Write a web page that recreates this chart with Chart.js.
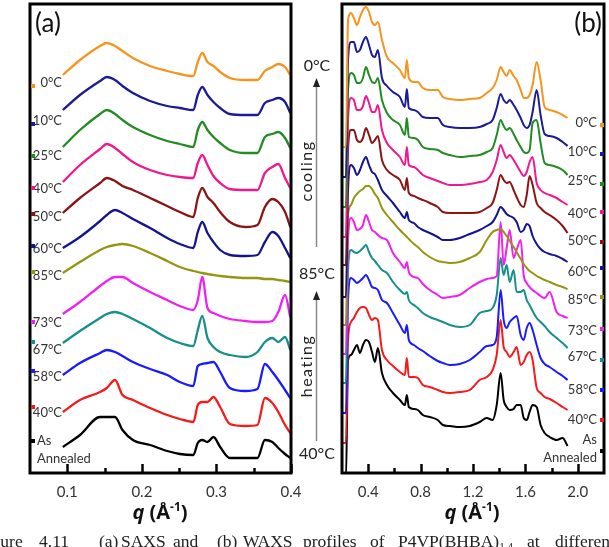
<!DOCTYPE html>
<html>
<head>
<meta charset="utf-8">
<title>SAXS / WAXS profiles</title>
<script src="https://cdn.jsdelivr.net/npm/chart.js@4.4.1/dist/chart.umd.min.js"></script>
<style>
  html, body { margin: 0; padding: 0; background: #fff; }
  #fig { position: relative; width: 609px; height: 547px; overflow: hidden; font-family: Lato, "Open Sans", sans-serif; color: #333; }
  #fig canvas { position: absolute; top: 0; }
  .t { position: absolute; white-space: nowrap; line-height: 1; }
  .temp { font-size: 13px; }
  .side { font-size: 16px; color: #222; }
  .panel { font-size: 26px; color: #111; }
  .mark { position: absolute; width: 4px; height: 4px; }
  .axis-title { font-family: "Open Sans", sans-serif; font-weight: 700; font-size: 20px; color: #111; }
  .axis-title sup { font-size: 12px; vertical-align: 8px; line-height: 0; }
  .cap { font-family: "Liberation Serif", serif; font-size: 17.5px; color: #222; }
  .cap sub { font-size: 11px; vertical-align: -3px; line-height: 0; }
</style>
</head>
<body>
<div id="fig">
  <canvas id="saxs" width="330" height="500" style="left:0;width:330px;height:500px"></canvas>
  <canvas id="waxs" width="309" height="500" style="left:300px;width:309px;height:500px"></canvas>
  <svg width="609" height="547" style="position:absolute;left:0;top:0">
    <line x1="316.5" y1="247" x2="316.5" y2="84" stroke="#888" stroke-width="1.5"/>
    <polygon points="316.5,78 313,87 320,87" fill="#222"/>
    <line x1="316.5" y1="441" x2="316.5" y2="297" stroke="#888" stroke-width="1.5"/>
    <polygon points="316.5,291 313,300 320,300" fill="#222"/>
  </svg>
</div>
<script>
// ---- data (intensity in arbitrary units, curves already stacked) ----
const tempLabels = ['0°C', '10°C', '25°C', '40°C', '50°C', '60°C', '85°C', '73°C', '67°C', '58°C', '40°C', 'As Annealed'];

// SAXS, q in 1/Å
const saxsQ = [0.094, 0.117, 0.144, 0.153, 0.164, 0.174, 0.188, 0.211, 0.234, 0.251, 0.269, 0.275,
               0.281, 0.288, 0.296, 0.305, 0.318, 0.339, 0.355, 0.365, 0.375, 0.383, 0.392, 0.399];
const saxs0C   = [398,413,427,430,427,422,415,407,402,399,397,411,420,411,407,401,395,393,393,402,406,409,406,398];
const saxs10C  = [363,378,392,396,393,387,380,372,367,365,363,378,386,378,371,365,359,358,358,370,373,375,371,360];
const saxs25C  = [326,343,359,363,359,353,346,338,332,329,326,343,351,343,336,330,323,320,320,336,339,341,335,325];
const saxs40Cc = [291,308,324,329,325,319,311,303,298,296,295,310,318,308,297,290,284,283,283,300,306,309,295,285];
const saxs50C  = [260,275,290,295,292,287,283,275,267,261,256,275,285,276,270,261,251,246,248,266,274,271,261,246];
const saxs60C  = [225,236,252,258,263,260,254,245,235,229,225,241,251,240,231,223,218,217,218,231,241,237,225,215];
const saxs85C  = [200,211,223,226,228,229,227,220,212,206,202,201,200,199,198,197,196,195,195,194,194,193,192,191];
const saxs73C  = [159,171,187,192,196,196,190,181,173,167,163,173,196,165,160,157,154,152,151,151,152,161,178,156];
const saxs67C  = [130,142,155,159,161,159,154,145,135,130,127,143,157,135,126,121,118,116,121,131,135,131,136,123];
const saxs58C  = [98,110,120,123,121,117,111,104,98,91,87,107,109,110,111,101,85,82,84,109,101,93,83,75];
const saxs40Ch = [61,73,81,85,93,78,73,65,58,54,51,68,71,71,76,66,49,47,48,75,70,61,48,40];
const saxsAnn  = [26,38,56,56,56,43,33,28,22,19,18,30,33,31,36,26,15,15,15,33,31,25,19,15];
const saxsTicks = [0.1, 0.2, 0.3, 0.4];

// WAXS, q in 1/Å
const waxsQ = [0.200, 0.230, 0.246, 0.269, 0.291, 0.314, 0.337, 0.360, 0.383, 0.406, 0.429, 0.451, 0.474,
               0.505, 0.543, 0.589, 0.642, 0.680, 0.695, 0.710, 0.749, 0.779, 0.817, 0.870, 0.931, 0.970,
               1.023, 1.099, 1.175, 1.251, 1.305, 1.350, 1.381, 1.411, 1.434, 1.457, 1.480, 1.510, 1.533,
               1.564, 1.587, 1.610, 1.632, 1.655, 1.686, 1.716, 1.747, 1.785, 1.838, 1.884, 1.922];
const waxs0C   = [326,326,453,460,455,448,456,463,466,461,451,448,451,433,416,410,403,395,413,395,391,391,385,383,383,376,374,373,374,375,380,385,393,406,401,397,403,397,393,383,375,375,378,388,411,393,366,363,361,358,355];
const waxs10C  = [296,296,413,431,431,421,423,431,436,428,418,416,423,395,387,381,376,366,384,365,363,361,356,355,355,348,346,345,345,346,349,353,365,379,373,370,373,368,363,355,348,345,348,361,383,358,339,337,335,331,327];
const waxs25C  = [266,266,383,400,398,390,390,395,406,398,391,390,395,373,360,353,348,338,355,336,335,333,326,324,323,320,318,316,317,318,321,325,338,353,347,343,345,339,333,326,321,320,323,350,353,330,310,308,306,303,298];
const waxs40Cc = [236,236,353,375,373,363,363,367,377,370,361,361,368,343,330,323,316,308,326,308,306,303,298,295,292,290,288,288,289,291,293,301,313,328,321,315,318,313,308,301,297,301,311,316,290,283,280,278,275,271,268];
const waxs50C  = [208,208,323,343,343,333,331,335,345,338,330,333,337,313,303,298,293,283,295,280,277,275,273,270,266,261,260,260,260,261,265,270,283,298,293,290,291,283,276,268,266,278,297,288,270,265,261,258,253,247,240];
const waxs60C  = [176,176,283,308,305,298,303,311,316,308,301,299,293,283,277,270,261,255,261,253,250,246,243,240,236,233,233,235,239,243,247,251,258,266,263,259,257,255,251,241,243,249,247,237,229,224,221,219,217,214,211];
const waxs85C  = [148,148,258,268,275,279,282,284,287,287,284,279,275,265,258,251,243,238,236,234,229,226,221,216,212,211,210,211,215,221,233,241,243,244,241,237,232,226,221,214,209,205,202,200,197,195,193,191,188,186,184];
const waxs73C  = [119,119,233,255,251,243,244,248,258,251,243,241,238,235,233,220,211,205,211,201,196,195,189,183,178,175,176,178,185,191,194,195,197,251,208,225,243,215,223,233,198,190,186,183,180,177,175,181,161,157,155];
const waxs67C  = [90,90,203,223,221,220,222,225,228,221,215,212,208,203,200,191,183,179,181,173,168,165,160,156,153,151,148,146,148,160,162,165,178,215,198,208,191,203,181,181,183,173,168,162,155,151,147,141,135,130,125];
const waxs58C  = [60,60,173,195,193,190,192,195,198,193,186,185,183,173,170,160,148,140,148,133,128,125,122,117,112,110,108,109,113,121,127,128,136,183,153,145,151,155,157,138,133,145,150,143,128,115,109,106,101,97,93];
const waxs40Ch = [30,30,133,151,155,161,165,166,165,158,153,155,153,123,113,107,101,98,115,96,96,95,88,86,83,81,80,81,83,93,96,103,118,153,126,121,116,121,126,108,111,118,121,113,85,80,76,74,70,66,63];
const waxsAnn  = [-7,-7,113,118,123,128,120,128,133,131,121,111,125,100,88,80,73,68,78,66,64,63,58,56,53,48,47,46,47,51,55,53,68,100,73,66,63,64,68,68,55,53,61,68,66,48,40,36,33,35,27];
const waxsTicks = [0.4, 0.8, 1.2, 1.6, 2.0];

const saxsSeries = [saxs0C, saxs10C, saxs25C, saxs40Cc, saxs50C, saxs60C, saxs85C, saxs73C, saxs67C, saxs58C, saxs40Ch, saxsAnn];
const waxsSeries = [waxs0C, waxs10C, waxs25C, waxs40Cc, waxs50C, waxs60C, waxs85C, waxs73C, waxs67C, waxs58C, waxs40Ch, waxsAnn];

// ---- styling ----
const curveColors = ['#f7941d', '#1b1b94', '#228b22', '#f0188c', '#8c1414', '#14148f',
                     '#959512', '#f020f0', '#178f8a', '#1a1aff', '#f51b1b', '#000000'];
const saxsLabelY = [82, 120, 155, 188, 216, 248, 275, 322, 349, 376, 412];
const saxsMarkY  = [86, 124, 156, 188, 214, 246, 272, 322, 342, 371, 407, 441];
const waxsLabelY = [122, 151, 180, 213, 240, 271, 299, 330, 356, 389, 419];
const waxsMarkY  = [125, 154, 184, 212, 242, 268, 297, 329, 360, 390, 420, 451];

// frame with inward tick marks
const framePlugin = {
  id: 'frame',
  afterDatasetsDraw(chart, args, opts) {
    const { ctx, chartArea: a } = chart;
    const x = chart.scales.x;
    ctx.save();
    ctx.strokeStyle = '#000';
    ctx.lineWidth = 2.5;
    const tick = (v, len) => {
      const px = Math.round(x.getPixelForValue(v)) + 0.5;
      ctx.beginPath();
      ctx.moveTo(px, a.bottom);
      ctx.lineTo(px, a.bottom - len);
      ctx.stroke();
    };
    opts.major.forEach(v => tick(v, 9));
    opts.minor.forEach(v => tick(v, 5));
    ctx.lineWidth = 3;
    ctx.strokeRect(a.left, a.top, a.right - a.left, a.bottom - a.top);
    ctx.restore();
  }
};

function makeChart(id, q, series, cfg) {
  return new Chart(document.getElementById(id), {
    type: 'line',
    data: {
      datasets: series.map((vals, i) => ({
        label: tempLabels[i],
        data: q.map((x, j) => ({ x: x, y: vals[j] })),
        borderColor: curveColors[i],
        borderWidth: cfg.lineWidth,
        pointRadius: 0,
        fill: false,
        cubicInterpolationMode: 'monotone'
      }))
    },
    options: {
      responsive: false,
      animation: false,
      layout: { padding: { left: cfg.left, right: cfg.right, top: 4, bottom: 0 } },
      plugins: {
        legend: { display: false },
        tooltip: { enabled: false },
        frame: { major: cfg.major, minor: cfg.minor }
      },
      scales: {
        x: {
          type: 'linear',
          min: cfg.min,
          max: cfg.max,
          grid: { display: false, drawTicks: false },
          border: { display: false },
          afterBuildTicks: s => { s.ticks = cfg.major.map(v => ({ value: v })); },
          afterFit: s => { s.height = 27; },
          ticks: {
            padding: 10,
            color: '#333',
            font: { family: 'Lato', size: 15 },
            maxRotation: 0,
            autoSkip: false,
            callback: v => v.toFixed(1)
          }
        },
        y: { display: false, min: 0, max: 469 }
      }
    },
    plugins: [framePlugin]
  });
}

makeChart('saxs', saxsQ, saxsSeries, {
  min: 0.05, max: 0.4, left: 30, right: 39, lineWidth: 2.3,
  major: saxsTicks, minor: [0.15, 0.25, 0.35]
});
makeChart('waxs', waxsQ, waxsSeries, {
  min: 0.2, max: 2.2, left: 42, right: 5, lineWidth: 2,
  major: waxsTicks, minor: [0.6, 1.0, 1.4, 1.8]
});

// ---- text ----
const fig = document.getElementById('fig');
function put(html, x, y, cls, align, extra) {
  const d = document.createElement('div');
  d.className = 't ' + cls;
  d.innerHTML = html;
  d.style.left = x + 'px';
  d.style.top = y + 'px';
  const dx = align === 'right' ? '-100%' : align === 'center' ? '-50%' : '0';
  d.style.transform = `translate(${dx}, -50%)` + (extra || '');
  fig.appendChild(d);
  return d;
}
function mark(x, y, color) {
  const m = document.createElement('div');
  m.className = 'mark';
  m.style.left = x + 'px';
  m.style.top = (y - 2) + 'px';
  m.style.background = color;
  fig.appendChild(m);
}

saxsLabelY.forEach((y, i) => put(tempLabels[i], 62, y, 'temp', 'right'));
put('As', 37, 440, 'temp', 'left');
put('Annealed', 37, 458, 'temp', 'left');
saxsMarkY.forEach((y, i) => mark(31, y, curveColors[i]));

waxsLabelY.forEach((y, i) => put(tempLabels[i], 597, y, 'temp', 'right'));
put('As', 597, 439, 'temp', 'right');
put('Annealed', 597, 457, 'temp', 'right');
waxsMarkY.forEach((y, i) => mark(600, y, curveColors[i]));

put('(a)', 35, 22, 'panel', 'left');
put('(b)', 602, 22, 'panel', 'right');

put('0°C', 317, 65, 'side', 'center');
put('85°C', 317, 273, 'side', 'center');
put('40°C', 317, 453, 'side', 'center');
put('cooling', 306, 171, 'side', 'center', ' rotate(-90deg)').style.letterSpacing = '1.5px';
put('heating', 306, 366, 'side', 'center', ' rotate(-90deg)').style.letterSpacing = '1.5px';

put('<i>q</i> (Å<sup>-1</sup>)', 160, 512, 'axis-title', 'center');
put('<i>q</i> (Å<sup>-1</sup>)', 472, 512, 'axis-title', 'center');

// y label, almost entirely cut off by the left edge
const yl = document.createElement('div');
yl.className = 't side';
yl.style.cssText = 'width:140px;text-align:right;left:-24px;top:326px;transform-origin:0 0;transform:rotate(-90deg);font-size:18px;line-height:18px';
yl.textContent = 'Intensity (a.u.)';
fig.appendChild(yl);

// caption (cut at both sides and at the bottom in the source)
const captionWords = ['Figure', '4.11', '(a)', 'SAXS', 'and', '(b)', 'WAXS', 'profiles', 'of', 'P4VP(BHBA)<sub>1.4</sub>', 'at', 'different'];
const captionX = [-23, 39, 99, 121, 173, 217, 243, 303, 370, 398, 527, 555];
captionWords.forEach((w, i) => put(w, captionX[i], 542, 'cap', 'left'));
</script>
</body>
</html>
